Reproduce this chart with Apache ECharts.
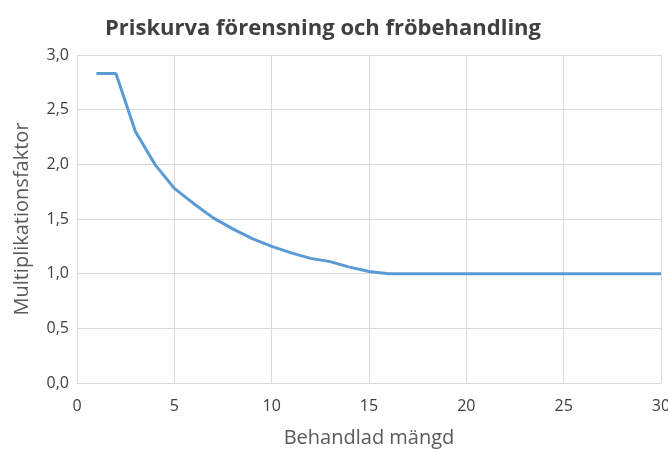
<!DOCTYPE html>
<html><head><meta charset="utf-8">
<script src="https://cdn.jsdelivr.net/npm/echarts@6/dist/echarts.min.js"></script>
<style>html,body{margin:0;padding:0;background:#fff}#c{width:668px;height:450px}</style>
</head><body><div id="c"></div>
<script>
const xValues = [1,2,3,4,5,6,7,8,9,10,11,12,13,14,15,16,17,18,19,20,21,22,23,24,25,26,27,28,29,30];
const yValues = [2.83,2.83,2.30,2.00,1.78,1.64,1.51,1.41,1.32,1.25,1.19,1.14,1.11,1.06,1.02,1.00,1.00,1.00,1.00,1.00,1.00,1.00,1.00,1.00,1.00,1.00,1.00,1.00,1.00,1.00];
const titleText = 'Priskurva förensning och fröbehandling';
const xName = 'Behandlad mängd';
const yName = 'Multiplikationsfaktor';

const chart = echarts.init(document.getElementById('c'));
const font = '"Open Sans", sans-serif';
chart.setOption({
  animation: false,
  title: {text: titleText, left: 318, textAlign: 'center', top: 13,
    textStyle: {fontFamily: font, fontWeight: 'bold', fontSize: 22, color: '#404040'}},
  grid: {left: 77, right: 7, top: 55, bottom: 67, outerBoundsMode: 'none', containLabel: false},
  xAxis: {type: 'value', min: 0, max: 30, interval: 5,
    name: xName, nameLocation: 'middle', nameGap: 45,
    nameTextStyle: {fontFamily: font, fontSize: 20, color: '#595959'},
    axisLine: {lineStyle: {color: '#d9d9d9'}},
    axisTick: {show: false},
    axisLabel: {fontFamily: font, fontSize: 16, color: '#404040', margin: 15},
    splitLine: {lineStyle: {color: '#d9d9d9', width: 1}}},
  yAxis: {type: 'value', min: 0, max: 3, interval: 0.5,
    name: yName, nameLocation: 'middle', nameGap: 45,
    nameTextStyle: {fontFamily: font, fontSize: 20, color: '#595959'},
    axisLine: {show: true, lineStyle: {color: '#d9d9d9'}},
    axisTick: {show: false},
    axisLabel: {fontFamily: font, fontSize: 16, color: '#404040', margin: 8,
      formatter: v => v.toFixed(1).replace('.', ',')},
    splitLine: {lineStyle: {color: '#d9d9d9', width: 1}}},
  series: [{type: 'line', data: xValues.map((x, i) => [x, yValues[i]]),
    showSymbol: false, smooth: false,
    lineStyle: {color: '#5b9bd5', width: 3}}]
});
</script></body></html>
